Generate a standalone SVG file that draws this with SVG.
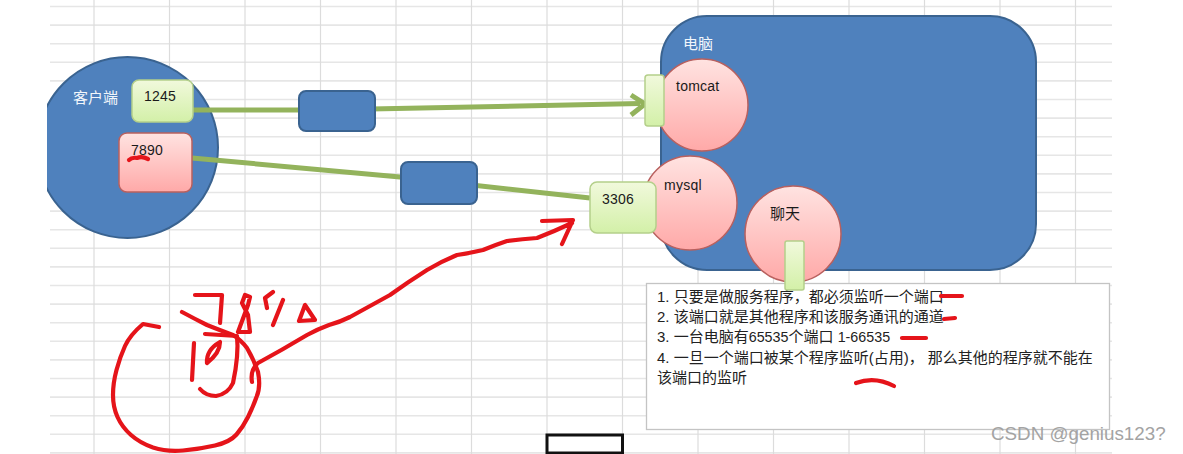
<svg xmlns="http://www.w3.org/2000/svg" width="1183" height="454" viewBox="0 0 1183 454">
<style>
text{font-family:"Liberation Sans","Noto Sans CJK SC",sans-serif;font-size:14px;fill:#1a1a1a;letter-spacing:.25px}
.grid-h{stroke:#e6e6e6;stroke-width:1.6}
.grid-v{stroke:#dcdcdc;stroke-width:1.2}
.blue{fill:#4f81bd;stroke:#3a6390;stroke-width:2}
.green{fill:url(#gg);stroke:#b4cf8a;stroke-width:1.5}
.pink{fill:url(#pg);stroke:#b9605e;stroke-width:1.5}
.wire{fill:none;stroke:#93b35c;stroke-width:5}
.ink{fill:none;stroke:#e5141a;stroke-width:4.200;stroke-linecap:round;stroke-linejoin:round}
.white{fill:#f2f6fb;font-size:15px;letter-spacing:0}
.cjk{font-size:15px;letter-spacing:0}
.note{font-size:15px;fill:#222;letter-spacing:0}
.num{font-size:14.300px}
</style>
<defs>
<linearGradient id="gg" x1="0" y1="0" x2="0" y2="1"><stop offset="0" stop-color="#f1f9dc"/><stop offset="1" stop-color="#d3f0a8"/></linearGradient>
<linearGradient id="pg" x1="0" y1="0" x2="0" y2="1"><stop offset="0" stop-color="#ffe3e1"/><stop offset="1" stop-color="#ffa9a8"/></linearGradient>
<clipPath id="cut"><rect x="47" y="0" width="300" height="454"/></clipPath>
</defs>
<rect width="1183" height="454" fill="#fff"/>
<g id="grid">
<path class="grid-h" d="M50 6.5H1112M50 25.1H1112M50 43.7H1112M50 62.3H1112M50 80.9H1112M50 99.5H1112M50 118.1H1112M50 136.7H1112M50 155.3H1112M50 173.9H1112M50 192.5H1112M50 211.1H1112M50 229.7H1112M50 248.3H1112M50 266.9H1112M50 285.5H1112M50 304.1H1112M50 322.7H1112M50 341.3H1112M50 359.9H1112M50 378.5H1112M50 397.1H1112M50 415.7H1112M50 434.3H1112M50 452.9H1112"/>
<path class="grid-v" d="M94 0V454M169.500 0V454M245 0V454M320.500 0V454M396 0V454M471.500 0V454M547 0V454M622.500 0V454M698 0V454M773.500 0V454M849 0V454M924.500 0V454M1000 0V454M1075.500 0V454"/>
</g>
<g id="client"><circle class="blue" cx="127.500" cy="147.500" r="90.500" clip-path="url(#cut)"/><text class="white" x="73" y="103">客户端</text></g>
<g id="computer"><rect class="blue" x="661" y="16" width="375" height="254" rx="46"/><text class="white" x="683" y="49">电脑</text></g>
<g id="connectors">
<path class="wire" d="M193 110L320 110L640 103.500"/>
<path class="wire" d="M631 95L645 104L631 115" stroke-linejoin="miter"/>
<path class="wire" d="M192 158L400 177L590 198"/>
</g>
<g id="relay-1"><rect class="blue" x="299" y="91" width="76" height="40" rx="7"/></g>
<g id="relay-2"><rect class="blue" x="401" y="162" width="76" height="42" rx="7"/></g>
<g id="port-1245"><rect class="green" x="132" y="80" width="61" height="42" rx="7"/><text x="144" y="101">1245</text></g>
<g id="port-7890"><rect class="pink" x="119" y="133" width="73" height="59" rx="8"/><text x="131" y="155">7890</text></g>
<g id="tomcat"><circle class="pink" cx="702" cy="105" r="46"/><text x="676" y="91">tomcat</text></g>
<g id="port-tomcat"><rect class="green" x="645" y="75" width="19" height="51" rx="3"/></g>
<g id="mysql"><circle class="pink" cx="690" cy="203" r="47"/><text x="664" y="190">mysql</text></g>
<g id="port-3306"><rect class="green" x="590" y="182" width="66" height="51" rx="7"/><text x="602" y="204">3306</text></g>
<g id="chat"><circle class="pink" cx="793" cy="234" r="48"/><text class="cjk" x="770" y="219">聊天</text></g>
<g id="note">
<rect x="646.500" y="283.500" width="463" height="146" fill="#fff" stroke="#c4c4c4" stroke-width="1.300"/>
<text class="note" x="657" y="302">1. 只要是做服务程序，都必须监听一个端口</text>
<text class="note" x="657" y="322">2. 该端口就是其他程序和该服务通讯的通道</text>
<text class="note" x="657" y="342">3. 一台电脑有<tspan class="num">65535</tspan>个端口 <tspan class="num">1-66535</tspan></text>
<text class="note" x="657" y="363">4. 一旦一个端口被某个程序监听(占用)， 那么其他的程序就不能在</text>
<text class="note" x="657" y="383">该端口的监听</text>
</g>
<g id="port-chat"><rect class="green" x="785" y="241" width="19" height="49" rx="2"/></g>
<g id="selected-cell"><rect x="547" y="435" width="75.500" height="18" fill="#fff" stroke="#111" stroke-width="3"/></g>
<g id="annotations">
<path class="ink" d="M129 160Q132 157 137 158Q142 156 148 159"/>
<path class="ink" d="M941 296L962 296M944 319L955 318M902 338L926 338M856 383Q875 376 894 386"/>
<path class="ink" d="M159 327L143 324Q130 335 125 346Q120 357 116.500 370Q113 383 113 395Q113 407 117.500 417Q122 427 131 435Q140 443 153 447.500Q167 452 183 450.500Q200 449 215 445.500Q230 442 236.500 434.500Q243 427 248 417Q253 407 256.500 397Q261 387 258 372Q254 360 247 348Q241 340 233 335Q222 331 207 325Q195 319 182 312"/>
<path class="ink" d="M195 295L222 295L220 323M205 334L237 336Q239 355 233 383Q228 394 216 396Q206 396 200 389M194 343L192 380M207 363Q206 350 220 342Q220 353 207 363Z"/>
<path class="ink" d="M238 332L250 332L248 315L242 303L245 295L250 297L248 305L238 332M273 292L265 298L267 308M283 300L273 325M305 305L299 321L315 320Z"/>
<path class="ink" d="M252 382Q250 370 258 363Q282 350 307 335Q318 329 329 325Q340 322 350 317Q370 306 390 295Q408 282 427 270Q442 261 457 255Q470 253 483 250Q495 245 507 241Q522 239 537 238Q555 231 572 223M542 221L573 220L562 244"/>
</g>
<text x="991" y="440" style="font-size:18.800px;fill:#a3a3a3;letter-spacing:0">CSDN @genius123?</text>
</svg>
